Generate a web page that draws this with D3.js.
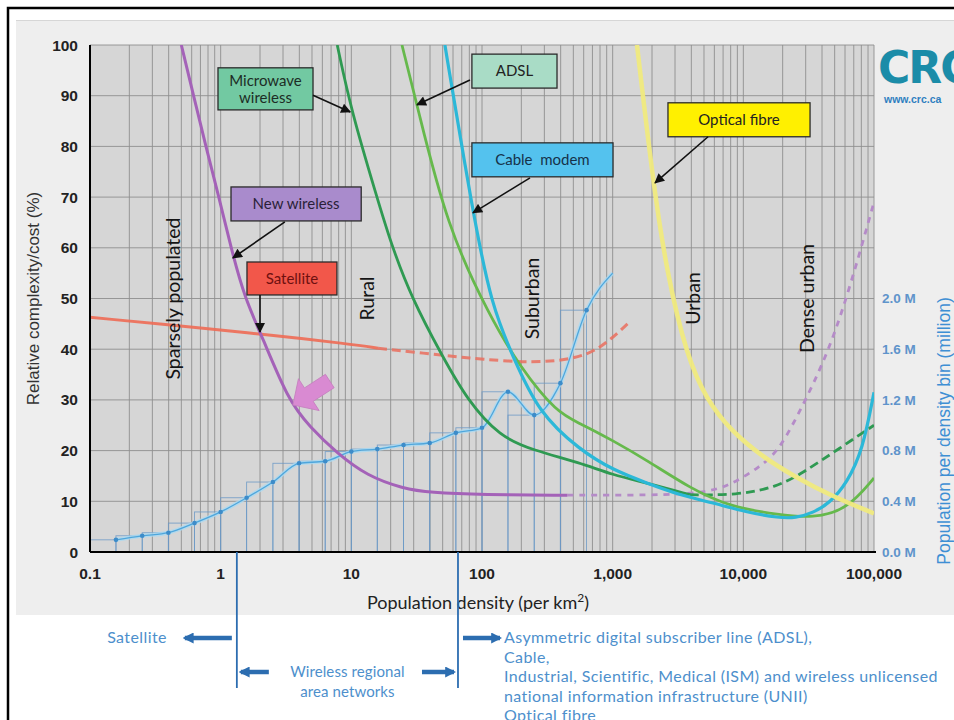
<!DOCTYPE html>
<html>
<head>
<meta charset="utf-8">
<script src="https://cdn.jsdelivr.net/npm/d3@7"></script>
<style>
body{margin:0;background:#fff;}
svg{display:block;}
</style>
</head>
<body>
<div id="chart"></div>
<script>
// population histogram: bin density (per km2) and people per bin (millions)
const popDensity = [0.158,0.251,0.398,0.631,1,1.58,2.51,3.98,6.31,10,15.8,25.1,39.8,63.1,100,158,251,398,631,1000];
const popMillions = [0.096,0.128,0.152,0.228,0.316,0.428,0.552,0.70,0.716,0.792,0.812,0.844,0.86,0.94,0.98,1.264,1.08,1.332,1.908,2.2];

// cost curves, [density, relative cost %]
const satelliteSolid = [[0.1,46.3],[1,43.8],[2,43],[10,41],[16,40.2]];
const satelliteDashed = [[16,40.2],[50,38.8],[100,38],[250,37.3],[500,38],[800,40],[1300,45]];
const newWirelessSolid = [[0.5,100],[0.62,90],[0.77,80],[0.97,70],[1.2,60],[1.53,50],[2.07,42.6],[3.27,30],[4.83,24.6],[7.76,19.5],[13.2,15],[25,12.5],[40,11.7],[100,11.3],[450,11.2]];
const newWirelessDashed = [[450,11.2],[2000,11.2],[5000,11.6],[8000,13.2],[13400,16.8],[19000,20.1],[30000,30],[52000,43],[100000,69]];
const microwaveSolid = [[7.8,100],[10,87],[15.7,70],[20,61],[29,50],[50,38.5],[77,30],[137,22.7],[245,20.1],[562,17.6],[1000,15.2],[1830,13.6],[3900,11.3]];
const microwaveDashed = [[3900,11.3],[8900,11.2],[18000,12.8],[28500,15.6],[52000,20.1],[100000,25]];
const adsl = [[24.4,100],[31.8,88.2],[54,64.1],[115,46.4],[195,36.5],[375,27.4],[562,25.4],[1000,22],[1830,18.1],[3900,12.6],[7900,8.9],[19000,7.3],[34000,6.7],[62000,8.3],[100000,14.6]];
const cableModem = [[52,100],[85,66.9],[119,48.3],[173,38.5],[270,27.5],[562,20.1],[1000,16.2],[1830,13.6],[3300,11.2],[5860,9.7],[10400,7.9],[19000,6.7],[25000,6.7],[34000,7.7],[46000,9.7],[62000,13.6],[82000,20.1],[100000,31.5]];
const opticalFibre = [[1535,100],[2040,72.8],[2600,55],[3700,38.5],[5250,30],[7900,24.1],[14100,18.7],[25000,14.8],[46000,11.2],[100000,7.6]];

// ticks
const yTicks = [0,10,20,30,40,50,60,70,80,90,100];
const xTicks = [0.1,1,10,100,1000,10000,100000];
const popTicks = [0,0.4,0.8,1.2,1.6,2.0];

// zones and technology boundaries
const zoneNames = ["Sparsely populated","Rural","Suburban","Urban","Dense urban"];
const zoneAt = [0.43,13.2,241,4120,30700];
const bandEdges = [1.33,65.5];

const W = 954, H = 720;
const svg = d3.select("#chart").append("svg").attr("width",W).attr("height",H);

const x = d3.scaleLog().domain([0.1,100000]).range([90,874]);
const y = d3.scaleLinear().domain([0,100]).range([552,45]);
const yPop = d3.scaleLinear().domain([0,4]).range([552,45]);

const defs = svg.append("defs");
defs.append("clipPath").attr("id","plotclip").append("rect")
    .attr("x",x(0.1)).attr("y",y(100)).attr("width",x(100000)-x(0.1)).attr("height",y(0)-y(100));
defs.append("marker").attr("id","ah").attr("viewBox","0 0 10 10").attr("refX",9).attr("refY",5)
    .attr("markerWidth",12).attr("markerHeight",10).attr("markerUnits","userSpaceOnUse").attr("orient","auto")
    .append("path").attr("d","M0,0L10,5L0,10Z").attr("fill","#111");
defs.append("marker").attr("id","bh").attr("viewBox","0 0 10 10").attr("refX",8).attr("refY",5)
    .attr("markerWidth",11).attr("markerHeight",11).attr("markerUnits","userSpaceOnUse").attr("orient","auto")
    .append("path").attr("d","M0,0L10,5L0,10Z").attr("fill","#2c6db0");

// page + panel
svg.append("rect").attr("width",W).attr("height",H).attr("fill","#fff");
svg.append("rect").attr("x",16).attr("y",20).attr("width",W).attr("height",595).attr("fill","#eeeeee");
svg.append("line").attr("x1",16).attr("x2",W).attr("y1",20.5).attr("y2",20.5).attr("stroke","#d6d6d6");
svg.append("rect").attr("x",8).attr("y",8).attr("width",W+10).attr("height",H+10)
    .attr("fill","none").attr("stroke","#000").attr("stroke-width",2.5);

// plot background and grid
svg.append("rect").attr("x",x(0.1)).attr("y",y(100)).attr("width",x(100000)-x(0.1)).attr("height",y(0)-y(100))
    .attr("fill","#d6d6d6");
const grid = svg.append("g");
grid.selectAll(".vg").data(x.ticks()).join("line")
    .attr("x1",d=>x(d)).attr("x2",d=>x(d)).attr("y1",y(100)).attr("y2",y(0))
    .attr("stroke","#8e8e8e").attr("stroke-width",0.9);
grid.selectAll(".hg").data(yTicks).join("line")
    .attr("x1",x(0.1)).attr("x2",x(100000)).attr("y1",d=>y(d)).attr("y2",d=>y(d))
    .attr("stroke","#8e8e8e").attr("stroke-width",0.9);

const plot = svg.append("g").attr("clip-path","url(#plotclip)");

// population histogram
const bars = popMillions.slice(0,-1).map((v,i)=>({x0: i==0 ? 0.1 : popDensity[i-1], x1: popDensity[i], v:v}));
plot.selectAll(".bar").data(bars).join("rect")
    .attr("x",d=>x(d.x0)).attr("width",d=>x(d.x1)-x(d.x0))
    .attr("y",d=>yPop(d.v)).attr("height",d=>yPop(0)-yPop(d.v))
    .attr("fill","none").attr("stroke","#6a98c6").attr("stroke-width",0.9).attr("opacity",0.85);
const popPts = popDensity.map((d,i)=>[d,popMillions[i]]);
const popLine = d3.line().x(d=>x(d[0])).y(d=>yPop(d[1])).curve(d3.curveMonotoneX);
plot.append("path").attr("d",popLine(popPts)).attr("fill","none")
    .attr("stroke","#a9d9f2").attr("stroke-width",4).attr("opacity",0.8);
plot.append("path").attr("d",popLine(popPts)).attr("fill","none")
    .attr("stroke","#4ea6dc").attr("stroke-width",1.3);
plot.selectAll(".dot").data(popPts.slice(0,-1)).join("circle")
    .attr("cx",d=>x(d[0])).attr("cy",d=>yPop(d[1])).attr("r",2.3).attr("fill","#3d8cc9");

// cost curves
const line = d3.line().x(d=>x(d[0])).y(d=>y(d[1])).curve(d3.curveBasis);
function curve(data,color,width,dash,op){
    plot.append("path").attr("d",line(data)).attr("fill","none")
        .attr("stroke",color).attr("stroke-width",width)
        .attr("stroke-dasharray",dash || null).attr("opacity",op || 1)
        .attr("stroke-linecap","butt");
}
curve(satelliteSolid,"#ee6b55",3,null,0.9);
curve(satelliteDashed,"#ea6f5e",3,"9,5",0.85);
curve(newWirelessDashed,"#b58bc8",2.8,"6,6");
curve(newWirelessSolid,"#a462b8",3);
curve(microwaveDashed,"#2f9a52",2.8,"9,5");
curve(microwaveSolid,"#2f9a52",2.8);
curve(adsl,"#66b94c",2.8);
curve(cableModem,"#2cb8d8",3.2);
curve(opticalFibre,"#f0ea7e",4.5,null,0.95);

// pink arrow pointing at the new wireless curve
svg.append("path")
    .attr("d","M0,0L-19,-19L-19,-8L-44,-8L-44,8L-19,8L-19,19Z")
    .attr("transform",`translate(${x(3.57)},${y(29)}) rotate(147)`)
    .attr("fill","#d98ad2").attr("stroke","#c57fbf").attr("stroke-width",0.8);

// axes
svg.append("line").attr("x1",x(0.1)).attr("x2",x(0.1)).attr("y1",y(100)).attr("y2",y(0))
    .attr("stroke","#000").attr("stroke-width",2);
svg.append("line").attr("x1",x(0.1)).attr("x2",x(100000)+2).attr("y1",y(0)).attr("y2",y(0))
    .attr("stroke","#000").attr("stroke-width",2);

svg.selectAll(".yt").data(yTicks).join("text")
    .attr("x",78).attr("y",d=>y(d)).attr("dy","0.36em").attr("text-anchor","end")
    .attr("font-family","Liberation Sans, Arial, sans-serif").attr("font-weight","bold")
    .attr("font-size",15.5).attr("fill","#222").text(d=>d);
const xfmt = d=> d<1 ? String(d) : d3.format(",")(d);
svg.selectAll(".xt").data(xTicks).join("text")
    .attr("x",d=>x(d)).attr("y",579).attr("text-anchor","middle")
    .attr("font-family","Liberation Sans, Arial, sans-serif").attr("font-weight","bold")
    .attr("font-size",15.5).attr("fill","#222").text(xfmt);
svg.selectAll(".pt").data(popTicks).join("text")
    .attr("x",882).attr("y",d=>yPop(d)).attr("dy","0.36em")
    .attr("font-family","Liberation Sans, Arial, sans-serif").attr("font-weight","bold")
    .attr("font-size",13.5).attr("fill","#5f94cb").text(d=>d3.format(".1f")(d)+" M");

svg.append("text").attr("transform",`translate(33,${y(50)}) rotate(-90)`)
    .attr("text-anchor","middle").attr("dy","0.35em")
    .attr("font-family","Liberation Sans, Arial, sans-serif").attr("font-size",17).attr("fill","#333")
    .text("Relative complexity/cost (%)");
const xt = svg.append("text").attr("x",478).attr("y",609).attr("text-anchor","middle")
    .attr("font-family","Lato, sans-serif").attr("font-size",18).attr("fill","#222");
xt.append("tspan").text("Population density (per km");
xt.append("tspan").attr("font-size",12).attr("dy",-7).text("2");
xt.append("tspan").attr("dy",7).text(")");
svg.append("text").attr("transform",`translate(944,431) rotate(-90)`)
    .attr("text-anchor","middle").attr("dy","0.35em")
    .attr("font-family","Liberation Sans, Arial, sans-serif").attr("font-size",17.5).attr("fill","#3e8fd4")
    .text("Population per density bin (million)");

// zone labels
svg.selectAll(".zone").data(zoneNames).join("text")
    .attr("transform",(d,i)=>`translate(${x(zoneAt[i])},${y(50)}) rotate(-90)`)
    .attr("text-anchor","middle").attr("dy","0.35em")
    .attr("font-family","Lato, sans-serif").attr("font-size",19.5).attr("fill","#151515")
    .text(d=>d);

// callouts: box corners and arrow in data space
const callouts = [
    {lines:["Microwave","wireless"], box:[0.954,5.09,95.5,87.2], fill:"#72c9a2", tc:"#1d2d25", from:[5.09,90.1], to:[9.8,86.8]},
    {lines:["New wireless"], box:[1.2,11.9,72.0,65.3], fill:"#a98bcc", tc:"#2a1f38", from:[3.1,65.1], to:[1.24,58.0]},
    {lines:["Satellite"], box:[1.59,7.76,57.2,50.7], fill:"#f2574a", tc:"#6e1010", from:[2.0,50.7], to:[2.0,43.4]},
    {lines:["ADSL"], box:[83.7,375,98.2,91.5], fill:"#a9dcc6", tc:"#222", from:[80.9,93.1], to:[31.8,88.2]},
    {lines:["Cable  modem"], box:[83.7,1006,80.7,74.0], fill:"#54c2ee", tc:"#16324a", from:[233,73.8], to:[85.3,66.9]},
    {lines:["Optical fibre"], box:[2650,32400,88.6,81.9], fill:"#fff000", tc:"#222", from:[5370,81.9], to:[2110,72.8]}
];
const cg = svg.append("g");
callouts.forEach(c=>{
    const bx = x(c.box[0]), bw = x(c.box[1])-x(c.box[0]);
    const by = y(c.box[2]), bh = y(c.box[3])-y(c.box[2]);
    cg.append("rect").attr("x",bx).attr("y",by).attr("width",bw).attr("height",bh)
        .attr("fill",c.fill).attr("stroke","#2b2b2b").attr("stroke-width",1.3);
    const n = c.lines.length;
    c.lines.forEach((t,i)=>{
        cg.append("text").attr("x",bx+bw/2).attr("y",by+bh/2+(i-(n-1)/2)*17).attr("dy","0.35em")
            .attr("text-anchor","middle").attr("font-family","Lato, sans-serif").attr("font-size",15)
            .style("white-space","pre").attr("fill",c.tc).text(t);
    });
    cg.append("line").attr("x1",x(c.from[0])).attr("y1",y(c.from[1]))
        .attr("x2",x(c.to[0])).attr("y2",y(c.to[1]))
        .attr("stroke","#111").attr("stroke-width",1.6).attr("marker-end","url(#ah)");
});

// logo
svg.append("text").attr("x",878).attr("y",83).attr("font-family","DejaVu Sans, sans-serif")
    .attr("font-weight","bold").attr("font-size",44).attr("fill","#1b8ca8").attr("letter-spacing",-2).text("CRC");
svg.append("text").attr("x",884).attr("y",103).attr("font-family","Liberation Sans, Arial, sans-serif")
    .attr("font-weight","bold").attr("font-size",10.5).attr("fill","#2f7fc0").text("www.crc.ca");

// technology bands below the chart
const bg = svg.append("g");
bg.selectAll(".edge").data(bandEdges).join("line")
    .attr("x1",d=>x(d)).attr("x2",d=>x(d)).attr("y1",y(0)).attr("y2",688)
    .attr("stroke","#2c6db0").attr("stroke-width",1.8);
const tcol = "#4d8fcc", tfont = "Lato, sans-serif";
function barrow(x1,x2,yy){
    bg.append("line").attr("x1",x1).attr("x2",x2).attr("y1",yy).attr("y2",yy)
        .attr("stroke","#2c6db0").attr("stroke-width",4.5).attr("marker-end","url(#bh)");
}
function btext(t,xx,yy,anchor,fs,ls){
    bg.append("text").attr("x",xx).attr("y",yy).attr("text-anchor",anchor)
        .attr("font-family",tfont).attr("font-size",fs || 16).attr("letter-spacing",ls==null ? 0.4 : ls)
        .attr("fill",tcol).text(t);
}
const e0 = x(bandEdges[0]), e1 = x(bandEdges[1]);
barrow(e0-5,e0-52,638);
btext("Satellite",e0-70,643,"end");
barrow(e0+32,e0+4,672);
barrow(e1-36,e1-4,672);
btext("Wireless regional",(e0+e1)/2,677,"middle",15,0.1);
btext("area networks",(e0+e1)/2,697,"middle",15,0.1);
barrow(e1+5,e1+42,638);
const wiredLines = ["Asymmetric digital subscriber line (ADSL),","Cable,","Industrial, Scientific, Medical (ISM) and wireless unlicensed","national information infrastructure (UNII)","Optical fibre"];
wiredLines.forEach((t,i)=>btext(t,e1+46,643+i*19.5,"start"));
</script>
</body>
</html>
